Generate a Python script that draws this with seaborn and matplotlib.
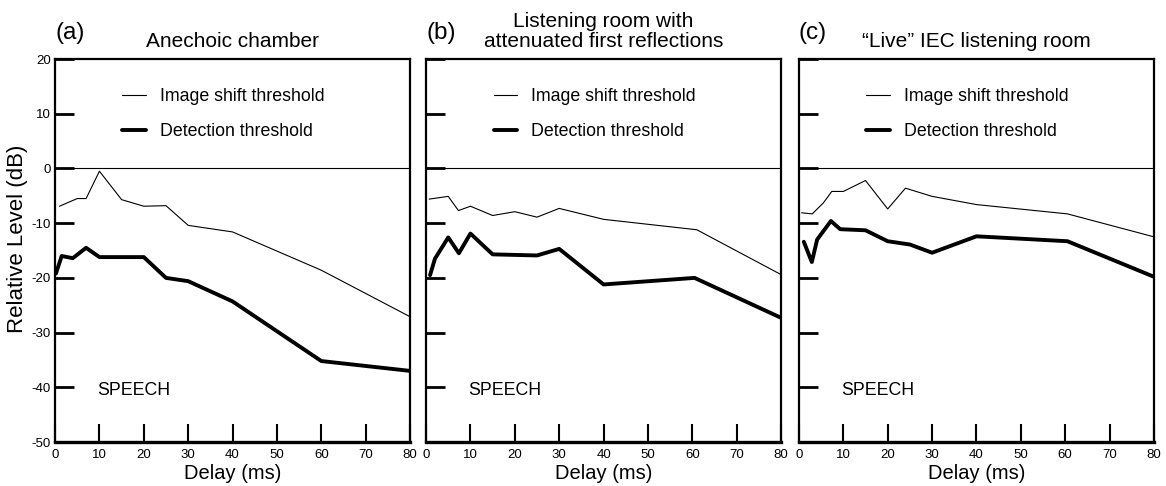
import numpy as np
import pandas as pd
import matplotlib
matplotlib.use("Agg")
import matplotlib.pyplot as plt
import seaborn as sns

# data (delay in ms, level in dB)
a_shift_x = [1, 5, 7, 10, 15, 20, 25, 30, 40, 60, 80]
a_shift_y = [-6.9, -5.5, -5.5, -0.5, -5.7, -6.9, -6.8, -10.4, -11.6, -18.6, -27.1]
a_det_x = [0.2, 1.5, 4, 7, 10, 20, 25, 30, 40, 60, 80]
a_det_y = [-19.2, -16.0, -16.4, -14.5, -16.2, -16.2, -20.0, -20.6, -24.3, -35.2, -37.0]

b_shift_x = [0.7, 5, 7.3, 10, 15, 20, 25, 30, 40, 61, 80]
b_shift_y = [-5.6, -5.1, -7.7, -6.9, -8.6, -7.9, -8.9, -7.3, -9.3, -11.2, -19.4]
b_det_x = [0.9, 2, 5, 7.4, 10, 15, 25, 30, 40, 60.5, 80]
b_det_y = [-19.5, -16.5, -12.6, -15.5, -11.9, -15.7, -15.9, -14.7, -21.2, -20.0, -27.3]

c_shift_x = [0.6, 3, 5.5, 7.4, 10, 15, 20, 24, 30, 40, 60.5, 80]
c_shift_y = [-8.1, -8.3, -6.3, -4.2, -4.2, -2.2, -7.4, -3.6, -5.1, -6.6, -8.3, -12.5]
c_det_x = [1.1, 2.9, 4.1, 7.2, 9.3, 15, 20, 25, 30, 40, 60.5, 80]
c_det_y = [-13.4, -17.1, -13.0, -9.6, -11.1, -11.3, -13.3, -13.9, -15.4, -12.4, -13.3, -19.8]

panel_tags = ["(a)", "(b)", "(c)"]
panel_titles = ["Anechoic chamber",
                "Listening room with\nattenuated first reflections",
                "\u201cLive\u201d IEC listening room"]
series_labels = ["Image shift threshold", "Detection threshold"]

panels = [(a_shift_x, a_shift_y, a_det_x, a_det_y),
          (b_shift_x, b_shift_y, b_det_x, b_det_y),
          (c_shift_x, c_shift_y, c_det_x, c_det_y)]

sns.set_style("ticks", rc={"axes.edgecolor": "black", "text.color": "black",
                           "axes.labelcolor": "black", "xtick.color": "black",
                           "ytick.color": "black"})
plt.rcParams['font.family'] = ['Liberation Sans', 'DejaVu Sans']
plt.rcParams['axes.unicode_minus'] = False

fig = plt.figure(figsize=(11.66, 4.86), dpi=100)
lefts = [0.0472, 0.3654, 0.6852]
width = 0.3045
bottom, height = 0.0905, 0.788

for i, (sx, sy, dx, dy) in enumerate(panels):
    ax = fig.add_axes([lefts[i], bottom, width, height])
    thin = pd.DataFrame({"Delay": sx, "Level": sy})
    thick = pd.DataFrame({"Delay": dx, "Level": dy})
    sns.lineplot(data=thin, x="Delay", y="Level", ax=ax, color="black",
                 linewidth=0.8, estimator=None, sort=False, label=series_labels[0])
    sns.lineplot(data=thick, x="Delay", y="Level", ax=ax, color="black",
                 linewidth=2.8, estimator=None, sort=False, label=series_labels[1])
    ax.axhline(0, color="black", linewidth=0.8)

    ax.set_xlim(0, 80)
    ax.set_ylim(-50, 20)
    ax.set_xticks(range(0, 81, 10))
    ax.set_yticks(range(-50, 21, 10))
    ax.tick_params(axis="y", direction="in", length=14, width=2, labelsize=9.5, pad=3)
    ax.tick_params(axis="x", direction="in", length=13, width=1.5, labelsize=9.5, pad=5)
    if i > 0:
        ax.set_yticklabels([])
    for sp in ax.spines.values():
        sp.set_linewidth(1.6)
        sp.set_visible(True)
    ax.spines["bottom"].set_linewidth(2.4)

    ax.set_xlabel("Delay (ms)", fontsize=14.5, labelpad=2)
    if i == 0:
        ax.set_ylabel("Relative Level (dB)", fontsize=16)
        ax.yaxis.set_label_coords(-0.075, 0.53)
    else:
        ax.set_ylabel("")

    ax.set_title(panel_titles[i], fontsize=15, pad=8.5, linespacing=1.1)
    ax.text(0.0, 1.052, panel_tags[i], transform=ax.transAxes,
            fontsize=17.5, ha="left", va="baseline")
    ax.text(9.5, -40.6, "SPEECH", fontsize=12.8, ha="left", va="center")

    ax.legend(loc="upper left", bbox_to_anchor=(0.19, 0.925), frameon=False,
              fontsize=12.8, handlelength=1.3, handletextpad=0.8, labelspacing=1.05,
              borderpad=0, borderaxespad=0)

fig.savefig("out.png", dpi=100)
